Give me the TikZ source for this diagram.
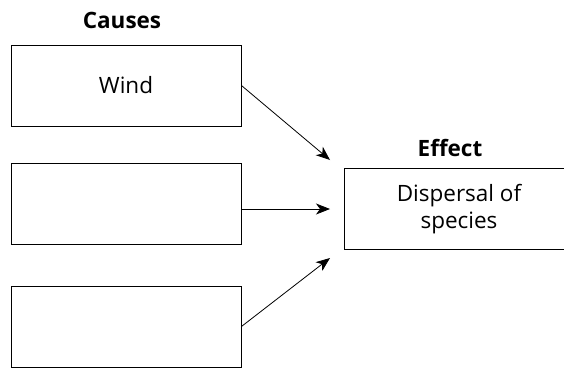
\documentclass[tikz,border=0pt]{standalone}
\usepackage{fontspec}
\setmainfont{Open Sans}
\usetikzlibrary{arrows.meta}

\begin{document}
\begin{tikzpicture}[x=1pt,y=-1pt,>={Stealth[length=14pt,width=11pt,inset=4pt]},
				cause node/.style = {rectangle,draw,line width=0.9pt,minimum width=230pt,minimum height=81pt,
					inner sep=0pt,align=center,font=\fontsize{22.5}{26.5}\selectfont},
				head node/.style = {anchor=base,font=\fontsize{22.5}{26}\selectfont\bfseries}]
				
				\useasboundingbox (0,0) rectangle (564,367);
				\node[cause node] at (126,85.5) (1) {Wind};
				\node[cause node] at (126,203.5) (2) {};
				\node[cause node] at (126,326.5) (3) {};
				\node[cause node] at (459,209) (4) {Dispersal of\\species};
				\node[head node] at (122,28) (5) {Causes};
				\node[head node] at (450,156) (6) {Effect};
				\coordinate (e1) at (330,160);
				\coordinate (e2) at (330,209);
				\coordinate (e3) at (330,258);
				
				\path[->,line width=0.8pt]
				(1.east) edge (e1)
				(2.east |- e2) edge (e2)
				(3.east) edge (e3);
				\end{tikzpicture}
\end{document}
